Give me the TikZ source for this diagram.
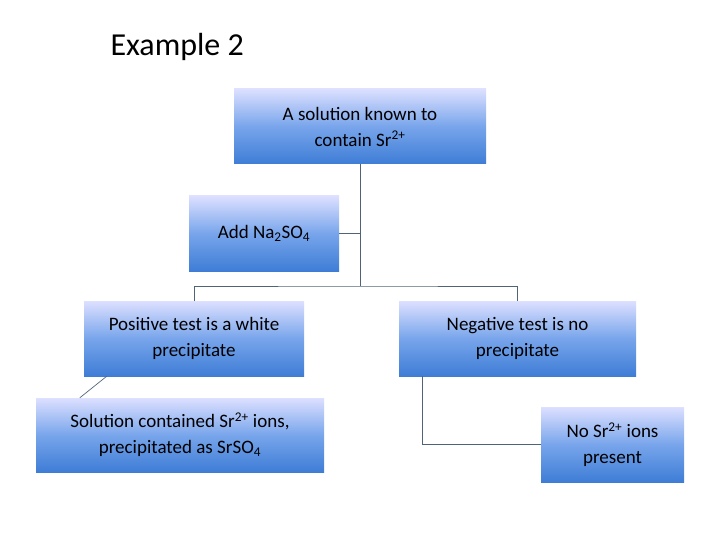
\documentclass[tikz,border=0pt]{standalone}
\usepackage{fontspec}
\setmainfont{Carlito}
\begin{document}
\begin{tikzpicture}[x=1pt,y=-1pt,
  bx/.style={top color=blue!10!cyan!5!white!70!blue!40, bottom color={rgb,255:red,62;green,125;blue,214}, middle color={rgb,255:red,120;green,165;blue,235}, draw=none, inner sep=0pt, align=center, font=\fontsize{19}{26}\selectfont},
  ln/.style={draw={rgb,255:red,80;green,100;blue,120}, line width=0.7pt}]
\useasboundingbox (0,0) rectangle (720,540);
\node[anchor=west,font=\fontsize{32}{36}\selectfont] (t) at (107,47) {Example 2};
\node[bx,minimum width=252,minimum height=75] (a) at (360,126.5) {A solution known to\\contain Sr\textsuperscript{2+}};
\node[bx,minimum width=150,minimum height=75] (b) at (264,233.5) {Add Na\textsubscript{2}SO\textsubscript{4}};
\node[bx,minimum width=220,minimum height=75] (c) at (194,338.5) {Positive test is a white\\precipitate};
\node[bx,minimum width=237,minimum height=75] (d) at (517.5,338.5) {Negative test is no\\precipitate};
\node[bx,minimum width=288,minimum height=74] (e) at (180,435) {Solution contained Sr\textsuperscript{2+} ions,\\precipitated as SrSO\textsubscript{4}};
\node[bx,minimum width=143,minimum height=75] (f) at (612.5,444.5) {No Sr\textsuperscript{2+} ions\\present};
\coordinate (j) at (360,286);
\draw[ln] (a.south) -- (j);
\draw[ln] (b.east) -- (360,233.5);
\draw[ln] (c.north) |- (j) -| (d.north);
\draw[ln] (c.south west)++(23,0) -- ([xshift=44pt]e.north west);
\draw[ln] ([xshift=24pt]d.south west) |- (f.west);
\end{tikzpicture}
\end{document}
